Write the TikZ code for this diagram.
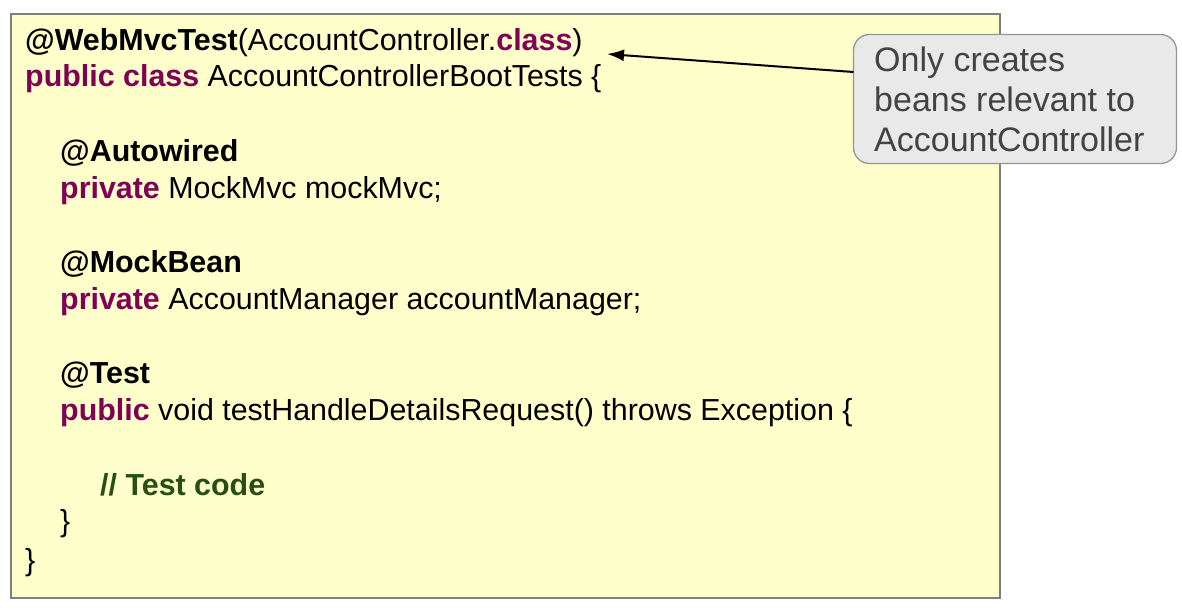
\documentclass[tikz,border=0pt]{standalone}
\usepackage{fontspec}
\setmainfont{Liberation Sans}
\usetikzlibrary{arrows.meta}
\definecolor{codebg}{HTML}{FFFFCC}
\definecolor{codeframe}{HTML}{7F7F7F}
\definecolor{kw}{HTML}{7F0055}
\definecolor{cmt}{HTML}{274E13}
\definecolor{notebg}{HTML}{E9E9E9}
\definecolor{noteframe}{HTML}{959595}
\definecolor{notetext}{HTML}{434343}
\newcommand{\kwd}[1]{\textcolor{kw}{\textbf{#1}}}
\tikzset{
  codeline/.style={anchor=base west, inner sep=0pt, font=\fontsize{30.4}{37}\selectfont, text=black},
  noteline/.style={anchor=base west, inner sep=0pt, font=\fontsize{34}{40}\selectfont, text=notetext},
  codebox/.style={draw=codeframe, fill=codebg, line width=1.5pt},
  notebox/.style={draw=noteframe, fill=notebg, line width=1.3pt, rounded corners=16pt, minimum width=323pt, minimum height=129pt, inner sep=0pt},
  pointer/.style={-{Latex[length=17pt,width=12pt]}, line width=2pt, black}
}
\begin{document}
\begin{tikzpicture}[x=1pt,y=-1pt]
\useasboundingbox (0,0) rectangle (1182,611);
\draw[codebox] (11,14) rectangle (1000,598);
\node[codeline] (l1) at (25,50) {\textbf{@WebMvcTest}(AccountController.\kwd{class})};
\node[codeline] (l2) at (25,86) {\kwd{public class} AccountControllerBootTests \{};
\node[codeline] (l3) at (60,161) {\textbf{@Autowired}};
\node[codeline] (l4) at (60,198) {\kwd{private} MockMvc mockMvc;};
\node[codeline] (l5) at (60,272) {\textbf{@MockBean}};
\node[codeline] (l6) at (60,309) {\kwd{private} AccountManager accountManager;};
\node[codeline] (l7) at (60,383) {\textbf{@Test}};
\node[codeline] (l8) at (60,420) {\kwd{public} void testHandleDetailsRequest() throws Exception \{};
\node[codeline] (l9) at (100,495) {\textcolor{cmt}{\textbf{// Test code}}};
\node[codeline] (l10) at (60,531) {\}};
\node[codeline] (l11) at (25,570) {\}};
\node[notebox] (callout) at (1015,99) {};
\node[noteline] (n1) at (874,71) {Only creates};
\node[noteline] (n2) at (874,111) {beans relevant to};
\node[noteline] (n3) at (874,151) {AccountController};
\coordinate (src) at (853.5,72);
\coordinate (tip) at (607,54);
\draw[pointer] (src) -- (tip);
\end{tikzpicture}
\end{document}
